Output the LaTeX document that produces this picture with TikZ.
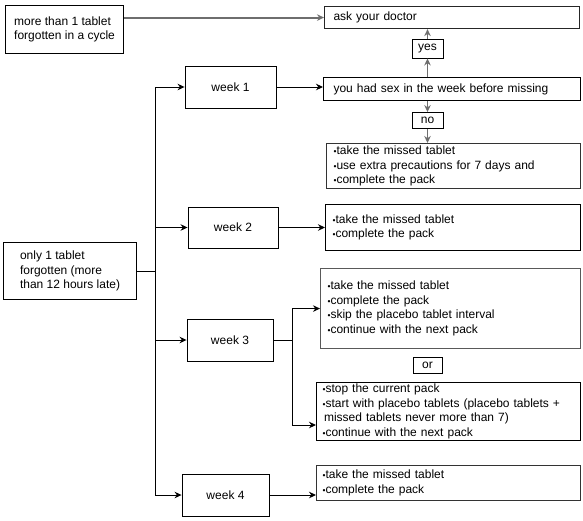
\documentclass[tikz,border=0pt]{standalone}
\usepackage{fontspec}
\setmainfont{Liberation Sans}
\usetikzlibrary{arrows.meta,positioning}

\definecolor{linegray}{RGB}{110,110,110}
\newcommand{\bul}{{\fontsize{8.5}{8.5}\selectfont\textbullet}}

\begin{document}
\begin{tikzpicture}[x=1pt,y=-1pt,>={Stealth[length=7pt,width=6.5pt]},
  every node/.style={font=\fontsize{12}{14.5}\selectfont},
  box/.style={draw, line width=1.1pt, inner ysep=0pt, align=left, anchor=north west},
  weekbox/.style={draw, line width=0.9pt, inner sep=0pt, align=center},
  tagbox/.style={draw, line width=0.9pt, inner sep=0pt, align=center},
  grayline/.style={draw=linegray, line width=1.9pt},
  blackline/.style={draw=black, line width=1pt}]
  \useasboundingbox (0,0) rectangle (583,520);

  % left column
  \node[box, inner xsep=0pt, minimum width=118pt, minimum height=48pt] (more) at (5,5)
    {more than 1 tablet\\forgotten in a cycle};
  \node[box, inner xsep=0pt, minimum width=133pt, minimum height=57pt] (only) at (3,242)
    {only 1 tablet\\forgotten (more\\than 12 hours late)};

  % weeks
  \node[weekbox, minimum width=91pt, minimum height=42pt] (week1) at (230.5,87) {week 1};
  \node[weekbox, minimum width=90pt, minimum height=41pt] (week2) at (233,227.5) {week 2};
  \node[weekbox, minimum width=86pt, minimum height=42pt] (week3) at (230,340) {week 3};
  \node[weekbox, minimum width=87pt, minimum height=42pt] (week4) at (225.5,495) {week 4};

  % right column
  \node[box, draw=black!85, inner xsep=9pt, text width=237pt, minimum height=22pt] (doctor) at (324,6)
    {ask your doctor};
  \node[tagbox, minimum width=31pt, minimum height=19pt] (yes) at (427.5,48.5) {yes};
  \node[box, inner xsep=10pt, text width=237pt, minimum height=23pt] (sex) at (323,77)
    {you had sex in the week before missing};
  \node[tagbox, minimum width=31pt, minimum height=16pt] (no) at (427.5,120.5) {no};
  \node[box, draw=black!80, inner xsep=7pt, text width=240pt, minimum height=45pt] (w1out) at (326,143)
    {\bul take the missed tablet\\\bul use extra precautions for 7 days and\\\bul complete the pack};
  \node[box, inner xsep=7pt, text width=241pt, minimum height=46pt] (w2out) at (325,204)
    {\bul take the missed tablet\\\bul complete the pack};
  \node[box, draw=black!65, inner xsep=7pt, text width=246pt, minimum height=80pt] (w3a) at (320,268)
    {\bul take the missed tablet\\\bul complete the pack\\\bul skip the placebo tablet interval\\\bul continue with the next pack};
  \node[tagbox, minimum width=29pt, minimum height=16pt] (or) at (427.5,365) {or};
  \node[box, inner xsep=6pt, text width=252pt, minimum height=58pt] (w3b) at (316,382)
    {\bul stop the current pack\\\bul start with placebo tablets (placebo tablets +\\\hspace{1.5pt}missed tablets never more than 7)\\\bul continue with the next pack};
  \node[box, draw=black!80, inner xsep=6pt, text width=252pt, minimum height=35pt] (w4out) at (316,465)
    {\bul take the missed tablet\\\bul complete the pack};

  \coordinate (trunk) at (155,87);
  \coordinate (split) at (292,346);
  \coordinate (split2) at (292,425);

  % connectors
  \draw[grayline,->] (more.east |- doctor.west) -- (doctor.west);
  \draw[grayline,->] (yes.south |- sex.north) -- (yes.south);
  \draw[grayline,->] (yes.north) -- (yes.north |- doctor.south);
  \draw[grayline,->] (no.north |- sex.south) -- (no.north);
  \draw[grayline,->] (no.south) -- (no.south |- w1out.north);

  \draw[blackline] (trunk |- week1.west) -- (trunk |- week4.west);
  \draw[blackline] (only.east) -- (trunk |- only.east);
  \foreach \w in {week1,week2,week3,week4}
    \draw[blackline,->] (trunk |- \w.west) -- (\w.west);

  \draw[blackline,->] (week1.east) -- (week1.east -| sex.west);
  \draw[blackline,->] (week2.east) -- (week2.east -| w2out.west);
  \draw[blackline] (week3.east) -- (week3.east -| split);
  \draw[blackline] (split |- w3a.west) -- (split2);
  \draw[blackline,->] (split |- w3a.west) -- (w3a.west);
  \draw[blackline,->] (split2) -- (split2 -| w3b.west);
  \draw[blackline,->] (week4.east) -- (week4.east -| w4out.west);
\end{tikzpicture}
\end{document}
